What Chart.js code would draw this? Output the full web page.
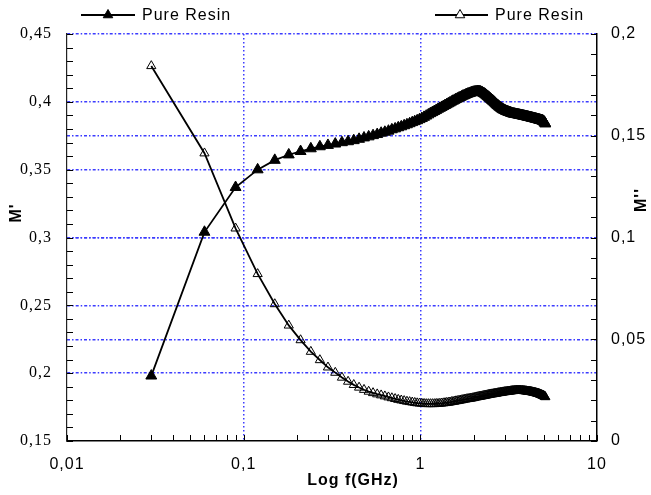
<!DOCTYPE html>
<html>
<head>
<meta charset="utf-8">
<script src="https://cdn.jsdelivr.net/npm/chart.js@4/dist/chart.umd.min.js"></script>
<style>
  html, body { margin: 0; padding: 0; background: #fff; }
  #wrap { width: 651px; height: 495px; }
</style>
</head>
<body>
<div id="wrap"><canvas id="chart" width="651" height="495"></canvas></div>
<script>
// frequency sweep (GHz)
const freqGHz = [
  0.03, 0.06, 0.09, 0.12, 0.15, 0.18, 0.21, 0.24, 0.27, 0.30,
  0.33, 0.36, 0.39, 0.42, 0.45, 0.48, 0.51, 0.54, 0.57, 0.60,
  0.63, 0.66, 0.69, 0.72, 0.75, 0.78, 0.81, 0.84, 0.87, 0.90,
  0.93, 0.96, 0.99, 1.02, 1.05, 1.08, 1.11, 1.14, 1.17, 1.20,
  1.23, 1.26, 1.29, 1.32, 1.35, 1.38, 1.41, 1.44, 1.47, 1.50,
  1.53, 1.56, 1.59, 1.62, 1.65, 1.68, 1.71, 1.74, 1.77, 1.80,
  1.83, 1.86, 1.89, 1.92, 1.95, 1.98, 2.01, 2.04, 2.07, 2.10,
  2.13, 2.16, 2.19, 2.22, 2.25, 2.28, 2.31, 2.34, 2.37, 2.40,
  2.43, 2.46, 2.49, 2.52, 2.55, 2.58, 2.61, 2.64, 2.67, 2.70,
  2.73, 2.76, 2.79, 2.82, 2.85, 2.88, 2.91, 2.94, 2.97, 3.00,
  3.03, 3.06, 3.09, 3.12, 3.15, 3.18, 3.21, 3.24, 3.27, 3.30,
  3.33, 3.36, 3.39, 3.42, 3.45, 3.48, 3.51, 3.54, 3.57, 3.60,
  3.63, 3.66, 3.69, 3.72, 3.75, 3.78, 3.81, 3.84, 3.87, 3.90,
  3.93, 3.96, 3.99, 4.02, 4.05, 4.08, 4.11, 4.14, 4.17, 4.20,
  4.23, 4.26, 4.29, 4.32, 4.35, 4.38, 4.41, 4.44, 4.47, 4.50,
  4.53, 4.56, 4.59, 4.62, 4.65, 4.68, 4.71, 4.74, 4.77, 4.80,
  4.83, 4.86, 4.89, 4.92, 4.95, 4.98, 5.01, 5.04, 5.07, 5.10
];

// M' (left axis, filled triangles)
const mPrime = [
  0.198, 0.304, 0.337, 0.350, 0.357, 0.361, 0.3635, 0.3655, 0.367, 0.368,
  0.369, 0.370, 0.3707, 0.3715, 0.3725, 0.3735, 0.3743, 0.3752, 0.376, 0.377,
  0.3777, 0.3785, 0.3795, 0.3802, 0.381, 0.3817, 0.3825, 0.3832, 0.384, 0.3848,
  0.3855, 0.3862, 0.387, 0.3878, 0.3887, 0.3896, 0.3905, 0.3914, 0.3922, 0.393,
  0.3938, 0.3946, 0.3953, 0.396, 0.3967, 0.3974, 0.398, 0.3987, 0.3993, 0.400,
  0.4006, 0.4012, 0.4018, 0.4023, 0.4028, 0.4033, 0.4038, 0.4043, 0.4047, 0.4051,
  0.4055, 0.4059, 0.4062, 0.4065, 0.4068, 0.4071, 0.4073, 0.4075, 0.4076, 0.4077,
  0.4077, 0.4076, 0.4074, 0.4071, 0.4067, 0.4063, 0.4058, 0.4053, 0.4047, 0.4041,
  0.4035, 0.4029, 0.4023, 0.4017, 0.4011, 0.4005, 0.3999, 0.3993, 0.3987, 0.3981,
  0.3975, 0.397, 0.3965, 0.396, 0.3955, 0.3951, 0.3947, 0.3943, 0.394, 0.3937,
  0.3934, 0.3931, 0.3929, 0.3927, 0.3925, 0.3923, 0.3921, 0.3919, 0.3917, 0.3915,
  0.3913, 0.3912, 0.3911, 0.391, 0.3909, 0.3908, 0.3907, 0.3906, 0.3905, 0.3904,
  0.3903, 0.3902, 0.3901, 0.39, 0.3899, 0.3898, 0.3897, 0.3896, 0.3895, 0.3894,
  0.3893, 0.3892, 0.3891, 0.389, 0.3889, 0.3888, 0.3887, 0.3886, 0.3885, 0.3884,
  0.3883, 0.3882, 0.3881, 0.388, 0.3879, 0.3878, 0.3877, 0.3876, 0.3875, 0.3874,
  0.3873, 0.3872, 0.3871, 0.387, 0.3869, 0.3868, 0.3867, 0.3866, 0.3865, 0.3864,
  0.3863, 0.3862, 0.3861, 0.386, 0.3858, 0.3856, 0.3853, 0.3849, 0.3844, 0.3838
];

// M'' (right axis, open triangles)
const mDoublePrime = [
  0.1843, 0.1414, 0.1045, 0.0821, 0.0673, 0.0568, 0.0496, 0.0439, 0.0398, 0.0362,
  0.0336, 0.0312, 0.0292, 0.0276, 0.0263, 0.0252, 0.0243, 0.0236, 0.0230, 0.0225,
  0.0220, 0.0215, 0.0211, 0.0207, 0.0203, 0.0200, 0.0197, 0.0194, 0.0192, 0.0190,
  0.0188, 0.0186, 0.0185, 0.0184, 0.0183, 0.0182, 0.0182, 0.0182, 0.0182, 0.0182,
  0.0183, 0.0183, 0.0184, 0.0185, 0.0186, 0.0187, 0.0188, 0.0189, 0.0190, 0.0192,
  0.0193, 0.0194, 0.0196, 0.0197, 0.0198, 0.0200, 0.0201, 0.0202, 0.0204, 0.0205,
  0.0206, 0.0207, 0.0208, 0.0209, 0.0210, 0.0211, 0.0212, 0.0214, 0.0215, 0.0216,
  0.0217, 0.0218, 0.0219, 0.0220, 0.0221, 0.0222, 0.0223, 0.0224, 0.0225, 0.0226,
  0.0227, 0.0228, 0.0229, 0.0230, 0.0230, 0.0231, 0.0232, 0.0233, 0.0233, 0.0234,
  0.0235, 0.0236, 0.0236, 0.0237, 0.0238, 0.0238, 0.0239, 0.0240, 0.0240, 0.0241,
  0.0241, 0.0242, 0.0242, 0.0243, 0.0243, 0.0244, 0.0244, 0.0245, 0.0245, 0.0246,
  0.0246, 0.0246, 0.0247, 0.0247, 0.0247, 0.0248, 0.0248, 0.0248, 0.0248, 0.0248,
  0.0248, 0.0248, 0.0248, 0.0247, 0.0247, 0.0247, 0.0247, 0.0246, 0.0246, 0.0246,
  0.0245, 0.0245, 0.0245, 0.0244, 0.0244, 0.0243, 0.0243, 0.0243, 0.0242, 0.0242,
  0.0241, 0.0241, 0.0240, 0.0240, 0.0239, 0.0239, 0.0238, 0.0237, 0.0237, 0.0236,
  0.0235, 0.0235, 0.0234, 0.0233, 0.0233, 0.0232, 0.0231, 0.0230, 0.0229, 0.0228,
  0.0227, 0.0226, 0.0225, 0.0224, 0.0223, 0.0222, 0.0221, 0.0219, 0.0218, 0.0216
];

const seriesNames = ['Pure Resin', 'Pure Resin'];

// tick labels
const xMajor = [0.01, 0.1, 1, 10];
const xTickLabels = ['0,01', '0,1', '1', '10'];
const yLeftMajor = [0.15, 0.2, 0.25, 0.3, 0.35, 0.4, 0.45];
const yLeftLabels = ['0,15', '0,2', '0,25', '0,3', '0,35', '0,4', '0,45'];
const yRightMajor = [0, 0.05, 0.1, 0.15, 0.2];
const yRightLabels = ['0', '0,05', '0,1', '0,15', '0,2'];

const GRID_BLUE = 'rgb(60,60,255)';
const TRANSPARENT = 'rgba(0,0,0,0)';

// tick lists incl. minor ticks
const xTicks = []
;[0.01, 0.1, 1].forEach(d => {
  for (let m = 1; m <= 9; m++) xTicks.push(+(m * d).toPrecision(3))
})
xTicks.push(10)
const yLeftTicks = []
for (let i = 15; i <= 45; i++) yLeftTicks.push(i / 100)
const yRightTicks = []
for (let i = 0; i <= 20; i++) yRightTicks.push(i / 100)

function findIdx(list, v) {
  return list.findIndex(m => Math.abs(m - v) < 1e-9)
}

// ticks pointing into the plot, drawn from the scales
const inwardTicks = {
  id: 'inwardTicks',
  afterDraw(chart) {
    const {ctx, chartArea: a, scales} = chart
    ctx.save()
    ctx.strokeStyle = '#000'
    ctx.lineWidth = 1
    ctx.setLineDash([])
    ctx.beginPath()
    scales.x.ticks.forEach(t => {
      const px = Math.round(scales.x.getPixelForValue(t.value)) + 0.5
      ctx.moveTo(px, a.bottom)
      ctx.lineTo(px, a.bottom - 6)
    })
    scales.yL.ticks.forEach(t => {
      const py = Math.round(scales.yL.getPixelForValue(t.value)) + 0.5
      ctx.moveTo(a.left, py)
      ctx.lineTo(a.left + 6, py)
    })
    scales.yR.ticks.forEach(t => {
      const py = Math.round(scales.yR.getPixelForValue(t.value)) + 0.5
      ctx.moveTo(a.right, py)
      ctx.lineTo(a.right - 6, py)
    })
    ctx.stroke()
    ctx.restore()
  }
}

// legend line+marker items and axis titles
const overlayText = {
  id: 'overlayText',
  beforeUpdate(chart) { chart.ctx.letterSpacing = '1px' },
  beforeDraw(chart) { chart.ctx.letterSpacing = '1px' },
  afterDraw(chart) {
    const ctx = chart.ctx
    ctx.save()
    ctx.letterSpacing = '1px'
    const items = [
      {x1: 81, x2: 135, mx: 108, tx: 142, fill: '#000'},
      {x1: 435, x2: 488, mx: 460, tx: 495, fill: '#fff'}
    ]
    items.forEach((it, i) => {
      ctx.strokeStyle = '#000'
      ctx.lineWidth = 1.8
      ctx.beginPath()
      ctx.moveTo(it.x1, 15)
      ctx.lineTo(it.x2, 15)
      ctx.stroke()
      ctx.fillStyle = it.fill
      ctx.lineWidth = 1
      Chart.helpers.drawPoint(ctx, {pointStyle: 'triangle', radius: 5.5, borderWidth: 1, rotation: 0}, it.mx, 15)
      ctx.fillStyle = '#000'
      ctx.font = '16px "Liberation Sans", Arial, sans-serif'
      ctx.textAlign = 'left'
      ctx.textBaseline = 'middle'
      ctx.fillText(seriesNames[i], it.tx, 16)
    })

    ctx.font = 'bold 16px "Liberation Sans", Arial, sans-serif'
    ctx.textAlign = 'center'
    ctx.textBaseline = 'middle'
    ctx.fillText('Log f(GHz)', 353, 481)

    ctx.save()
    ctx.translate(17, 213)
    ctx.rotate(-Math.PI / 2)
    ctx.fillText("M'", 0, 0)
    ctx.restore()

    ctx.save()
    ctx.translate(642, 200)
    ctx.rotate(-Math.PI / 2)
    ctx.fillText("M''", 0, 0)
    ctx.restore()

    ctx.restore()
  }
}

const tickFontSans = {family: '"Liberation Sans", Arial, sans-serif', size: 16}
const tickFontSerif = {family: '"Liberation Serif", "Times New Roman", serif', size: 16}

const chart = new Chart(document.getElementById('chart').getContext('2d'), {
  type: 'line',
  data: {
    datasets: [
      {
        label: seriesNames[0],
        data: freqGHz.map((f, i) => ({x: f, y: mPrime[i]})),
        yAxisID: 'yL',
        borderColor: '#000',
        borderWidth: 1.8,
        pointStyle: 'triangle',
        pointRadius: 6.3,
        pointBackgroundColor: '#000',
        pointBorderColor: '#000',
        pointBorderWidth: 1,
        tension: 0
      },
      {
        label: seriesNames[1],
        data: freqGHz.map((f, i) => ({x: f, y: mDoublePrime[i]})),
        yAxisID: 'yR',
        borderColor: '#000',
        borderWidth: 1.8,
        pointStyle: 'triangle',
        pointRadius: 5.3,
        pointBackgroundColor: TRANSPARENT,
        pointBorderColor: '#000',
        pointBorderWidth: 1,
        tension: 0
      }
    ]
  },
  options: {
    responsive: false,
    animation: false,
    layout: {padding: {top: 34, left: 0, right: 0, bottom: 0}},
    plugins: {
      legend: {display: false},
      tooltip: {enabled: false}
    },
    scales: {
      x: {
        type: 'logarithmic',
        position: 'bottom',
        min: 0.01,
        max: 10,
        afterBuildTicks: (scale) => { scale.ticks = xTicks.map(v => ({value: v})) },
        afterFit: (scale) => { scale.height = 54 },
        ticks: {
          autoSkip: false,
          maxRotation: 0,
          padding: 14,
          color: '#000',
          font: tickFontSans,
          callback: (v) => {
            const i = findIdx(xMajor, v)
            return i >= 0 ? xTickLabels[i] : ''
          }
        },
        grid: {
          drawTicks: false,
          lineWidth: 1.5,
          color: (c) => (c.tick && (Math.abs(c.tick.value - 0.1) < 1e-9 || Math.abs(c.tick.value - 1) < 1e-9)) ? GRID_BLUE : TRANSPARENT
        },
        border: {color: '#000', width: 1.5, dash: [1.5, 2.5]}
      },
      yL: {
        type: 'linear',
        position: 'left',
        min: 0.15,
        max: 0.45,
        afterBuildTicks: (scale) => { scale.ticks = yLeftTicks.map(v => ({value: v})) },
        afterFit: (scale) => { scale.width = 67 },
        ticks: {
          autoSkip: false,
          padding: 15,
          color: '#000',
          font: tickFontSerif,
          callback: (v) => {
            const i = findIdx(yLeftMajor, v)
            return i >= 0 ? yLeftLabels[i] : ''
          }
        },
        grid: {
          drawTicks: false,
          lineWidth: 1.5,
          color: (c) => {
            if (!c.tick) return TRANSPARENT
            const i = findIdx(yLeftMajor, c.tick.value)
            return (i > 0) ? GRID_BLUE : TRANSPARENT
          }
        },
        border: {color: '#222', width: 1.2, dash: [3, 2, 1.5, 2]}
      },
      yR: {
        type: 'linear',
        position: 'right',
        min: 0,
        max: 0.2,
        afterBuildTicks: (scale) => { scale.ticks = yRightTicks.map(v => ({value: v})) },
        afterFit: (scale) => { scale.width = 54 },
        ticks: {
          autoSkip: false,
          padding: 14,
          color: '#000',
          font: tickFontSans,
          callback: (v) => {
            const i = findIdx(yRightMajor, v)
            return i >= 0 ? yRightLabels[i] : ''
          }
        },
        grid: {
          drawTicks: false,
          lineWidth: 1.5,
          color: (c) => {
            if (!c.tick) return TRANSPARENT
            const i = findIdx(yRightMajor, c.tick.value)
            return (i > 0 && i < yRightMajor.length - 1) ? GRID_BLUE : TRANSPARENT
          }
        },
        border: {color: '#000', width: 1.5, dash: [3, 2, 1.5, 2]}
      }
    }
  },
  plugins: [inwardTicks, overlayText]
})
</script>
</body>
</html>
